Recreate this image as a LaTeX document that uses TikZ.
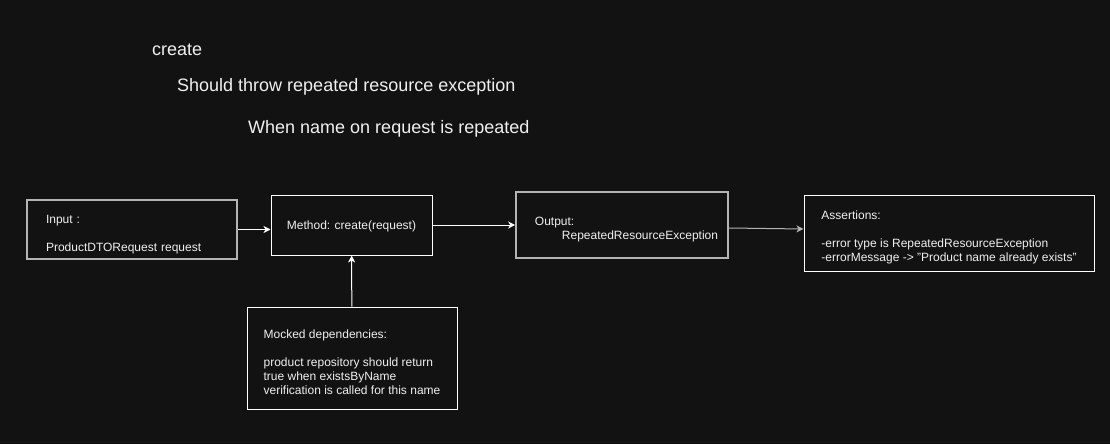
\documentclass[tikz,border=0pt]{standalone}
\usepackage{fontspec}
\setmainfont{Liberation Sans}
\usepackage{xcolor}
\usetikzlibrary{arrows.meta, positioning}

\definecolor{canvas}{HTML}{121212}
\definecolor{ink}{HTML}{F0F0F0}
\definecolor{edgegrey}{HTML}{B4B4B4}
\newcommand{\toppad}[1]{\rule{0pt}{#1}}
\newcommand{\dq}{\char34\relax}

\begin{document}
\begin{tikzpicture}[
    x=1pt, y=-1pt,
    every node/.style={font=\fontsize{12}{14}\selectfont, text=ink},
    box/.style={rectangle, draw=white, line width=1pt, align=left, inner sep=0pt},
    greybox/.style={box, draw=edgegrey, line width=1.6pt},
    heading/.style={font=\fontsize{18}{21}\selectfont, anchor=base west, inner sep=0pt},
    arrow/.style={-{Stealth[length=7pt, width=7pt, inset=2pt]}, line width=1pt, draw=white},
    greyarrow/.style={arrow, draw=edgegrey}
]

% Canvas
\fill[canvas] (0,0) rectangle (1110,444);
\useasboundingbox (0,0) rectangle (1110,444);

% Headings
\node[heading] (fn) at (152,56) {create};
\node[heading] (case) at (177,91) {Should throw repeated resource exception};
\node[heading] (cond) at (248,133) {When name on request is repeated};

% Input
\node[greybox, minimum width=210pt, minimum height=59pt, text width=172pt, inner xsep=19pt]
    (input) at (132,229.5) {\toppad{18pt}Input :\\[14pt]ProductDTORequest request};

% Method under test
\node[box, align=center, minimum width=161pt, minimum height=60pt] (method) at (351.5,225)
    {\toppad{12pt}Method: create(request)};

% Output
\node[greybox, minimum width=212pt, minimum height=66pt] (output) at (622,225)
    {\toppad{18pt}\hspace*{9pt}Output:\\\hspace*{36pt}RepeatedResourceException};

% Assertions
\node[box, minimum width=290pt, minimum height=76pt] (assert) at (949,233)
    {\toppad{18pt}Assertions:\\[14pt]-error type is RepeatedResourceException\\
     -errorMessage -> \dq Product name already exists\dq};

% Mocked dependencies
\node[box, minimum width=210pt, minimum height=102pt] (mocks) at (352,358)
    {\toppad{18pt}Mocked dependencies:\\[14pt]product repository should return\\
     true when existsByName\\verification is called for this name};

% Arrows
\draw[arrow] (input.east) -- (input.east -| method.west);
\draw[arrow] (method) -- (output);
\draw[greyarrow] ([yshift=-3pt]output.east) -- ([yshift=4pt]assert.west);
\draw[arrow] (mocks) -- (method);

\end{tikzpicture}
\end{document}
